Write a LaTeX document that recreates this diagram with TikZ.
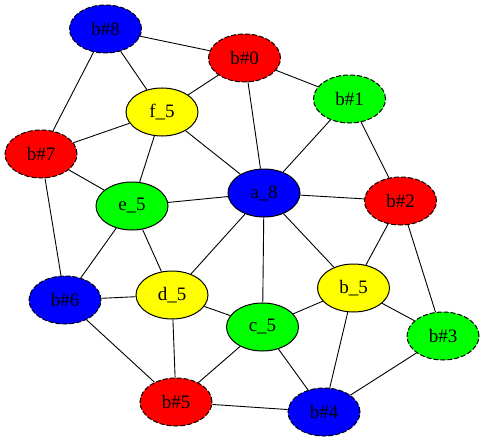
\documentclass[tikz,border=0pt]{standalone}
\usepackage{fontspec}
\setmainfont{Liberation Serif}
\usepackage{xcolor}
\usetikzlibrary{shapes.geometric}

\definecolor{gvblue}{RGB}{0,0,255}
\definecolor{gvred}{RGB}{255,0,0}
\definecolor{gvgreen}{RGB}{0,255,0}
\definecolor{gvyellow}{RGB}{255,255,0}

\begin{document}
\begin{tikzpicture}[x=1pt,y=-1pt,line width=1pt,
    vtx/.style={ellipse, draw=black, minimum width=72pt, minimum height=48pt,
      inner sep=0pt, font=\fontsize{19}{22}\selectfont},
    bnd/.style={vtx, dash pattern=on 5pt off 2pt},
    edge/.style={draw=black, line width=0.9pt}]
    \useasboundingbox (0,0) rectangle (484,441);
    % outer ring
    \node[bnd, fill=gvblue]   (b8) at (105.5,29)  {b\#8};
    \node[bnd, fill=gvred]    (b0) at (244.5,58)  {b\#0};
    \node[bnd, fill=gvgreen]  (b1) at (349.5,99)  {b\#1};
    \node[bnd, fill=gvred]    (b2) at (400.5,201) {b\#2};
    \node[bnd, fill=gvgreen]  (b3) at (443,336)   {b\#3};
    \node[bnd, fill=gvblue]   (b4) at (324,412)   {b\#4};
    \node[bnd, fill=gvred]    (b5) at (176,402)   {b\#5};
    \node[bnd, fill=gvblue]   (b6) at (65,300)    {b\#6};
    \node[bnd, fill=gvred]    (b7) at (41,154)    {b\#7};
    % inner nodes
    \node[vtx, fill=gvblue]   (a8) at (264,193)   {a\_8};
    \node[vtx, fill=gvyellow] (f5) at (162,112)   {f\_5};
    \node[vtx, fill=gvgreen]  (e5) at (132,206)   {e\_5};
    \node[vtx, fill=gvyellow] (d5) at (172,295)   {d\_5};
    \node[vtx, fill=gvgreen]  (c5) at (262.5,327) {c\_5};
    \node[vtx, fill=gvyellow] (b5i) at (353.5,288) {b\_5};
    % connectors
    \foreach \s/\t in {b8/b0, b8/f5, b8/b7, b0/f5, b0/b1, b0/a8, b1/a8, b1/b2,
        f5/b7, f5/e5, f5/a8, b7/e5, b7/b6, a8/e5, a8/b2, a8/d5, a8/c5, a8/b5i,
        b2/b5i, b2/b3, e5/d5, e5/b6, b6/d5, b6/b5, d5/c5, d5/b5, c5/b5i,
        c5/b5, c5/b4, b5i/b3, b5i/b4, b3/b4, b5/b4}
      \draw[edge] (\s) -- (\t);
\end{tikzpicture}
\end{document}
